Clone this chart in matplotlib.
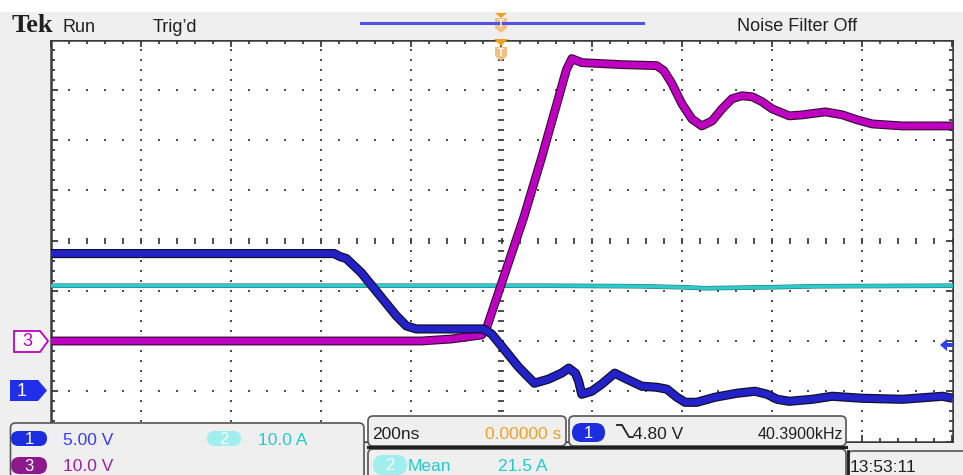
import numpy as np
import matplotlib.pyplot as plt
import matplotlib.patheffects as pe
from matplotlib.patches import Rectangle, Polygon, FancyBboxPatch

# ---- scope settings ----
time_per_div = 200.0      # ns
ch1_scale, ch1_pos = 5.0, -3.0     # V/div, ground position (div)
ch2_scale, ch2_pos = 10.0, -3.05   # A/div
ch3_scale, ch3_pos = 10.0, -2.0    # V/div

# ---- traces ----
t_ch1 = [-1000, -371, -358, -344, -311, -233, -211, -189, -178, -40, -22, 0, 38, 73,
         104, 133, 149, 164, 171, 178, 200, 222, 251, 278, 311, 344, 367, 389, 407,
         433, 473, 522, 562, 589, 611, 638, 689, 733, 800, 889, 978, 1000]
v_ch1 = [13.7, 13.7, 13.4, 13.2, 11.8, 7.5, 6.5, 6.2, 6.2, 6.2, 5.7, 4.5, 2.4, 0.8,
         1.2, 1.8, 2.3, 1.8, 1.0, -0.3, 0.0, 0.7, 1.8, 1.2, 0.5, 0.4, 0.2, -0.6, -1.1,
         -1.1, -0.6, -0.2, 0.0, -0.3, -0.8, -1.0, -0.8, -0.5, -0.7, -0.8, -0.5, -0.7]

t_ch2 = [-1000, 100, 300, 400, 450, 600, 700, 1000]
i_ch2 = [21.5, 21.5, 21.4, 21.2, 21.0, 21.2, 21.4, 21.5]

t_ch3 = [-1000, -178, -111, -44, -33, 4, 49, 89, 144, 156, 178, 267, 344, 360, 378,
         400, 422, 444, 467, 489, 511, 533, 556, 578, 600, 638, 667, 718, 756, 789,
         822, 889, 1000]
v_ch3 = [0, 0, 0.4, 1.2, 2.6, 12.5, 24.5, 36.5, 54, 56.2, 55.4, 55, 54.8, 53.8, 51.2,
         47.2, 44.2, 42.8, 43.8, 46.2, 48.2, 48.8, 48.6, 47.6, 46.2, 44.8, 45.0, 45.6,
         45.0, 44.0, 43.2, 42.8, 42.8]

BLUE = '#2222c8'
MAG = '#c000c0'
CYAN = '#2ccaca'
SANS = 'Liberation Sans'

W, H = 963, 475
fig = plt.figure(figsize=(W / 100, H / 100), dpi=100)
fig.patch.set_facecolor('white')

# ---- graticule ----
ax = fig.add_axes([50.5 / W, (H - 441.5) / H, 902 / W, 402 / H], zorder=2)
ax.set_xlim(-5, 5)
ax.set_ylim(-4, 4)
ax.set_facecolor('white')
for s in ax.spines.values():
    s.set_color('#3a3a3a')
    s.set_linewidth(1.8)
ax.set_xticks(range(-5, 6))
ax.set_yticks(range(-4, 5))
ax.set_xticks(np.arange(-5, 5.01, 0.2), minor=True)
ax.set_yticks(np.arange(-4, 4.01, 0.2), minor=True)
ax.tick_params(which='both', direction='in', top=True, right=True,
               labelbottom=False, labelleft=False, color='#3a3a3a', width=1.3)
ax.tick_params(which='major', length=5)
ax.tick_params(which='minor', length=3)

ys = np.arange(-4, 4.01, 0.2)
xs = np.arange(-5, 5.01, 0.2)
for gx in range(-4, 5):
    if gx != 0:
        ax.scatter(np.full(len(ys), gx), ys, s=2.2, marker='s', color='#505050', lw=0)
for gy in range(-3, 4):
    if gy != 0:
        ax.scatter(xs, np.full(len(xs), gy), s=2.2, marker='s', color='#505050', lw=0)
ax.plot(np.zeros(len(ys)), ys, ls='none', marker='_', ms=5, mew=1.3, color='#404040')
ax.plot(xs, np.zeros(len(xs)), ls='none', marker='|', ms=4.5, mew=1.3, color='#404040')

# ---- traces ----
tx = lambda t: np.array(t) / time_per_div
ax.plot(tx(t_ch2), np.array(i_ch2) / ch2_scale + ch2_pos, color=CYAN, lw=2.5, zorder=3,
        path_effects=[pe.withStroke(linewidth=3.3, foreground='#207070')])
ax.plot(tx(t_ch3), np.array(v_ch3) / ch3_scale + ch3_pos, color=MAG, lw=4.8, zorder=4,
        solid_joinstyle='round', solid_capstyle='butt',
        path_effects=[pe.withStroke(linewidth=6.4, foreground='#301030')])
ax.plot(tx(t_ch1), np.array(v_ch1) / ch1_scale + ch1_pos, color=BLUE, lw=4.8, zorder=5,
        solid_joinstyle='round', solid_capstyle='butt',
        path_effects=[pe.withStroke(linewidth=6.6, foreground='#101030')])

# ---- screen furniture (pixel coordinates) ----
ui = fig.add_axes([0, 0, 1, 1], zorder=5)
ui.set_xlim(0, W)
ui.set_ylim(H, 0)
ui.axis('off')

GRAY = '#efefef'
ui.add_patch(Rectangle((0, 12), W, 27.5, fc=GRAY, ec='none'))
ui.add_patch(Rectangle((0, 12), 49.5, H, fc=GRAY, ec='none'))
ui.add_patch(Rectangle((953.5, 12), 10, H, fc=GRAY, ec='none'))
ui.add_patch(Rectangle((0, 442.5), W, 40, fc=GRAY, ec='none'))


def box(x0, y0, x1, y1, r=5, ec='#555555', lw=1.2):
    ui.add_patch(FancyBboxPatch((x0, y0), x1 - x0, y1 - y0,
                                boxstyle=f'round,pad=0,rounding_size={r}',
                                fc=GRAY, ec=ec, lw=lw))


def pill(x0, y0, x1, y1, fc, txt):
    r = (y1 - y0) / 2
    ui.add_patch(FancyBboxPatch((x0, y0), x1 - x0, y1 - y0,
                                boxstyle=f'round,pad=0,rounding_size={r}',
                                fc=fc, ec='none'))
    ui.text((x0 + x1) / 2, (y0 + y1) / 2 + 1, txt, color='white', family=SANS,
            fontsize=12, ha='center', va='center')


# top bar
ui.text(12, 32, 'Tek', family='Liberation Serif', weight='bold', fontsize=19,
        color='#202020', va='baseline')
ui.text(63, 32, 'Run', family=SANS, fontsize=13, color='#202020', va='baseline')
ui.text(153, 32, 'Trig\u2019d', family=SANS, fontsize=13, color='#202020', va='baseline')
ui.text(737, 31, 'Noise Filter Off', family=SANS, fontsize=13, color='#202020',
        va='baseline')
ui.plot([361, 643], [23, 23], color='#5050f0', lw=2.2)
ORANGE = '#f0a020'
LORANGE = '#f4c080'
ui.add_patch(Polygon([(495, 13), (507, 13), (501, 18)], fc=ORANGE, ec='none'))
ui.add_patch(Polygon([(495, 18), (507, 18), (507, 28), (501, 33), (495, 28)],
                     fc=LORANGE, ec='none'))
ui.text(501, 24, 'T', color='white', fontsize=7, ha='center', va='center',
        family=SANS, weight='bold')
ui.add_patch(Polygon([(494, 39), (508, 39), (501, 46)], fc=ORANGE, ec='none'))
ui.add_patch(Polygon([(495, 47), (507, 47), (507, 56), (501, 61), (495, 56)],
                     fc=LORANGE, ec='none'))
ui.text(501, 53, 'T', color='white', fontsize=7, ha='center', va='center',
        family=SANS, weight='bold')

# channel ground markers
ui.add_patch(Polygon([(14, 331), (40, 331), (48, 341), (40, 352), (14, 352)],
                     fc='white', ec=MAG, lw=1.3))
ui.text(27, 342, '3', color=MAG, family=SANS, fontsize=13, ha='center', va='center')
ui.add_patch(Polygon([(10, 380), (38, 380), (47, 390.5), (38, 401), (10, 401)],
                     fc='#2030e8', ec='none'))
ui.text(22, 391, '1', color='white', family=SANS, fontsize=13, ha='center', va='center')
# trigger level arrow
ui.add_patch(Polygon([(940, 345), (947, 339), (947, 351)], fc='#3040f0', ec='none'))
ui.add_patch(Rectangle((946, 343), 7, 4, fc='#3040f0', ec='none'))

# bottom readouts
box(10.5, 423, 364, 485)
pill(11, 431, 47, 446, '#1c2ce0', '1')
ui.text(63, 445, '5.00 V', color='#3a3aff', family=SANS, fontsize=12.5, va='baseline')
pill(207, 431, 241, 446, '#a0eeee', '2')
ui.text(258, 445, '10.0 A', color='#22cccc', family=SANS, fontsize=12.5, va='baseline')
pill(11, 457, 47, 474, '#8c1a8c', '3')
ui.text(63, 471, '10.0 V', color='#a020a0', family=SANS, fontsize=12.5, va='baseline')

box(368, 449, 846, 485)
box(848, 451, 975, 485)
ui.plot([848, 848], [451, 475], color='#202020', lw=2)
box(368, 416, 566, 446)
box(569, 416, 846, 446)
ui.plot([368, 846], [446.5, 446.5], color='#202020', lw=2.2)

ui.text(372, 439, '200ns', color='#202020', family=SANS, fontsize=12.5, va='baseline')
ui.text(561, 439, '0.00000 s', color=ORANGE, family=SANS, fontsize=12.5,
        va='baseline', ha='right')
pill(572, 423, 605, 442, '#1c2ce0', '1')
ui.plot([617, 622, 629, 633], [425, 425, 437, 437], color='#202020', lw=1.3)
ui.text(633, 439, '4.80 V', color='#202020', family=SANS, fontsize=12.5, va='baseline')
ui.text(843, 439, '40.3900kHz', color='#202020', family=SANS, fontsize=11.5,
        va='baseline', ha='right')
pill(373, 455, 407, 475, '#a0eeee', '2')
ui.text(408, 471, 'Mean', color='#22cccc', family=SANS, fontsize=12.5, va='baseline')
ui.text(498, 471, '21.5 A', color='#22cccc', family=SANS, fontsize=12.5, va='baseline')
ui.text(850, 472, '13:53:11', color='#202020', family=SANS, fontsize=12.5, va='baseline')

fig.savefig('out.png', dpi=100)
